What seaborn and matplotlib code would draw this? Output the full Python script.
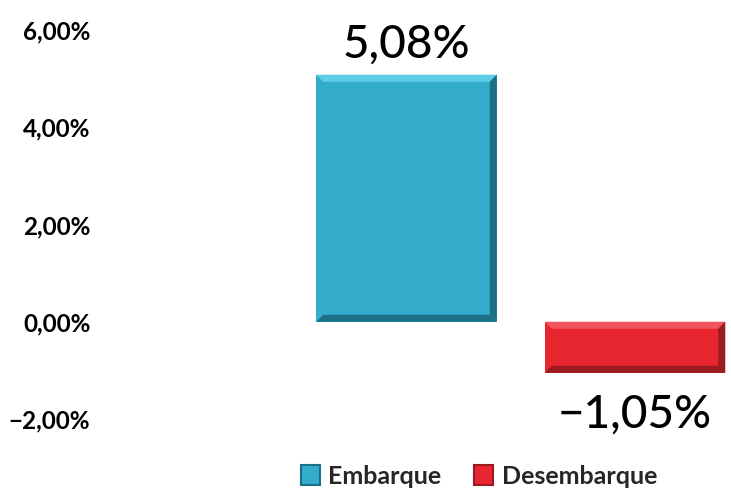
import matplotlib
matplotlib.use("Agg")
import matplotlib.pyplot as plt
import matplotlib.ticker as mticker
from matplotlib.patches import Patch, Polygon
import pandas as pd
import seaborn as sns

# data
categories = ["Embarque", "Desembarque"]
values = [5.08, -1.05]
colors = ["#34ADCC", "#E8262F"]
light_colors = ["#5FCDE8", "#F2545C"]
dark_colors = ["#1C6F85", "#9C1A21"]
y_ticks = [-2, 0, 2, 4, 6]

df = pd.DataFrame({"tipo": categories, "valor": values})

sns.set_theme(style="white")
plt.rcParams["font.family"] = ["Lato", "DejaVu Sans"]


def pct(v):
    s = f"{abs(v):.2f}".replace(".", ",") + "%"
    return ("\u2212" if v < 0 else "") + s


fig = plt.figure(figsize=(7.31, 4.98), dpi=100)
# zero near y=322 px, ~48.6 px per 1%
ax = fig.add_axes([100 / 731, 79 / 498, 631 / 731, 389 / 498])

sns.barplot(data=df, x="tipo", y="valor", hue="tipo", palette=colors,
            saturation=1, width=0.79, dodge=False, legend=False, ax=ax)

ax.set_ylim(-2, 6)
ax.set_xlim(-1.341, 1.42)

# bevel look on each bar
bx = 7 / 228.5
by = 7 / 48.6
for patch, lc, dc in zip(ax.patches, light_colors, dark_colors):
    patch.set_edgecolor("none")
    x0, w = patch.get_x(), patch.get_width()
    y0, h = patch.get_y(), patch.get_height()
    yb, yt = min(y0, y0 + h), max(y0, y0 + h)
    x1 = x0 + w
    top = [(x0, yt), (x1, yt), (x1 - bx, yt - by), (x0 + bx, yt - by)]
    bot = [(x0, yb), (x1, yb), (x1 - bx, yb + by), (x0 + bx, yb + by)]
    right = [(x1, yt), (x1, yb), (x1 - bx, yb + by), (x1 - bx, yt - by)]
    ax.add_patch(Polygon(top, closed=True, facecolor=lc, edgecolor="none"))
    ax.add_patch(Polygon(bot, closed=True, facecolor=dc, edgecolor="none"))
    ax.add_patch(Polygon(right, closed=True, facecolor=dc, edgecolor="none"))

ax.set_yticks(y_ticks)
ax.yaxis.set_major_formatter(mticker.FuncFormatter(lambda v, _: pct(v)))
ax.set_xticks([])
ax.set_xlabel("")
ax.set_ylabel("")
ax.tick_params(axis="y", length=0, pad=7, labelsize=17.5)
for lab in ax.get_yticklabels():
    lab.set_fontweight("bold")
    lab.set_color("black")
sns.despine(ax=ax, left=True, bottom=True)

for i, v in enumerate(values):
    off = 22 if v >= 0 else -30
    ax.annotate(pct(v), xy=(i, v), xytext=(0, off), textcoords="offset points",
                ha="center", va="center", fontsize=33, fontweight="medium", color="black")

handles = [Patch(facecolor=c, edgecolor=d, linewidth=1.5) for c, d in zip(colors, dark_colors)]
fig.legend(handles, categories, loc="center", bbox_to_anchor=(479 / 731, 1 - 476 / 498),
           ncol=2, frameon=False, handlelength=0.75, handleheight=0.9,
           handletextpad=0.35, columnspacing=1.3,
           prop={"size": 18, "weight": "bold", "family": ["Lato", "DejaVu Sans"]})

fig.savefig("out.png", dpi=100)
